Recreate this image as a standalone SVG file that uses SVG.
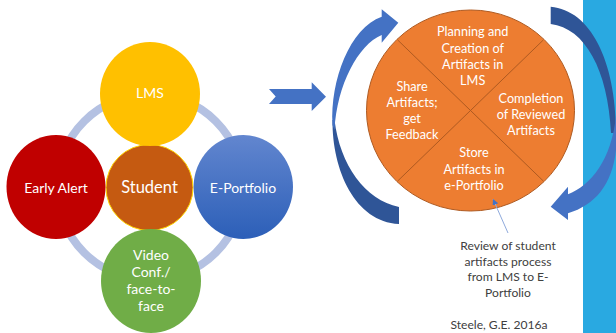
<svg xmlns="http://www.w3.org/2000/svg" width="616" height="333" viewBox="0 0 616 333">
<defs>
<linearGradient id="ep" x1="0" y1="0" x2="0" y2="1"><stop offset="0" stop-color="#6286cf"/><stop offset="1" stop-color="#2c5fb8"/></linearGradient>
<marker id="tip" markerWidth="7" markerHeight="7" refX="6" refY="3" orient="auto" markerUnits="userSpaceOnUse"><path d="M0,0L6,3L0,6Z" fill="#4472c4"/></marker>
</defs>
<style>
text{font-family:"Lato","Liberation Sans",sans-serif;text-anchor:middle;fill:#fff;font-size:14px}
#process-wheel text{font-size:12.700px}
.d{fill:#404040;font-size:12.100px}
.l{fill:#4472c4}.k{fill:#2f5597}
</style>
<rect id="bar" x="583" y="0" width="33" height="333" fill="#29a9e1"/>
<g id="ring"><ellipse cx="150" cy="187" rx="93" ry="93" fill="none" stroke="#b4c1e2" stroke-width="8"/></g>
<g id="student"><ellipse cx="149.500" cy="187.500" rx="43.500" ry="43" fill="#c55a11" stroke="#ffd500" stroke-width="1"/><text x="149.500" y="193" style="font-size:16.500px">Student</text></g>
<g id="lms"><ellipse cx="150" cy="94" rx="50" ry="52" fill="#ffc000"/><text x="150" y="98">LMS</text></g>
<g id="early-alert"><ellipse cx="56" cy="187" rx="49.500" ry="52" fill="#c00000"/><text x="56" y="192.500">Early Alert</text></g>
<g id="e-portfolio"><ellipse cx="243.300" cy="187" rx="49.700" ry="52" fill="url(#ep)"/><text x="243" y="192.500">E-Portfolio</text></g>
<g id="video"><ellipse cx="151" cy="281" rx="50" ry="52" fill="#70ad47"/><text x="151" y="260">Video</text><text x="151" y="277">Conf./</text><text x="151" y="294">face-to-</text><text x="151" y="311">face</text></g>
<g id="block-arrow"><path class="l" d="M269,89H311.700V82.300L326,96.700L311.700,111V104H269L275.700,96.500Z"/></g>
<g id="process-wheel">
<ellipse cx="470.500" cy="110.500" rx="104" ry="100.500" fill="#ed7d31" stroke="#ae5a21" stroke-width="1"/>
<path d="M397.700,40L543.300,181M543.300,40L397.700,181" stroke="#ae5a21" stroke-width="1" fill="none"/>
<g id="planning"><text x="472.700" y="36">Planning and</text><text x="472.700" y="53">Creation  of</text><text x="472.700" y="69">Artifacts in</text><text x="472.700" y="85">LMS</text></g>
<g id="share"><text x="412" y="90.500">Share</text><text x="412" y="106.500">Artifacts;</text><text x="412" y="123">get</text><text x="412" y="139">Feedback</text></g>
<g id="completion"><text x="531" y="102.500">Completion</text><text x="531" y="119">of Reviewed</text><text x="531" y="135">Artifacts</text></g>
<g id="store"><text x="474" y="157">Store</text><text x="474" y="173.500">Artifacts in</text><text x="474" y="190">e-Portfolio</text></g>
</g>
<g id="connectors">
<path class="k" d="M399,207C365,200 340,165 334.500,120L332.500,120C332,170 355,222 399,224Z"/>
<path class="l" d="M381.700,16.700V9.300L398.300,22.700L381.700,42.700V35C358,45 337,85 334.500,130L332.500,125C330,80 350,28 381.700,16.700Z"/>
<path class="k" d="M550.700,6.700C590,10 616,60 616,133L611,133C608,70 585,28 550.700,24Z"/>
<path class="l" d="M568,194.300C590,186 612,160 616,115V150C612,185 595,205 568,213.300V220L550.700,206.700L568,186.700Z"/>
<line x1="508" y1="233" x2="493" y2="199" stroke="#8faadc" stroke-width="1" marker-end="url(#tip)"/>
</g>
<g id="caption"><text class="d" x="508" y="250">Review of student</text><text class="d" x="508" y="266">artifacts process</text><text class="d" x="508" y="281">from LMS to E-</text><text class="d" x="508" y="297">Portfolio</text></g>
<g id="credit"><text class="d" x="499" y="329">Steele, G.E. 2016a</text></g>
</svg>
